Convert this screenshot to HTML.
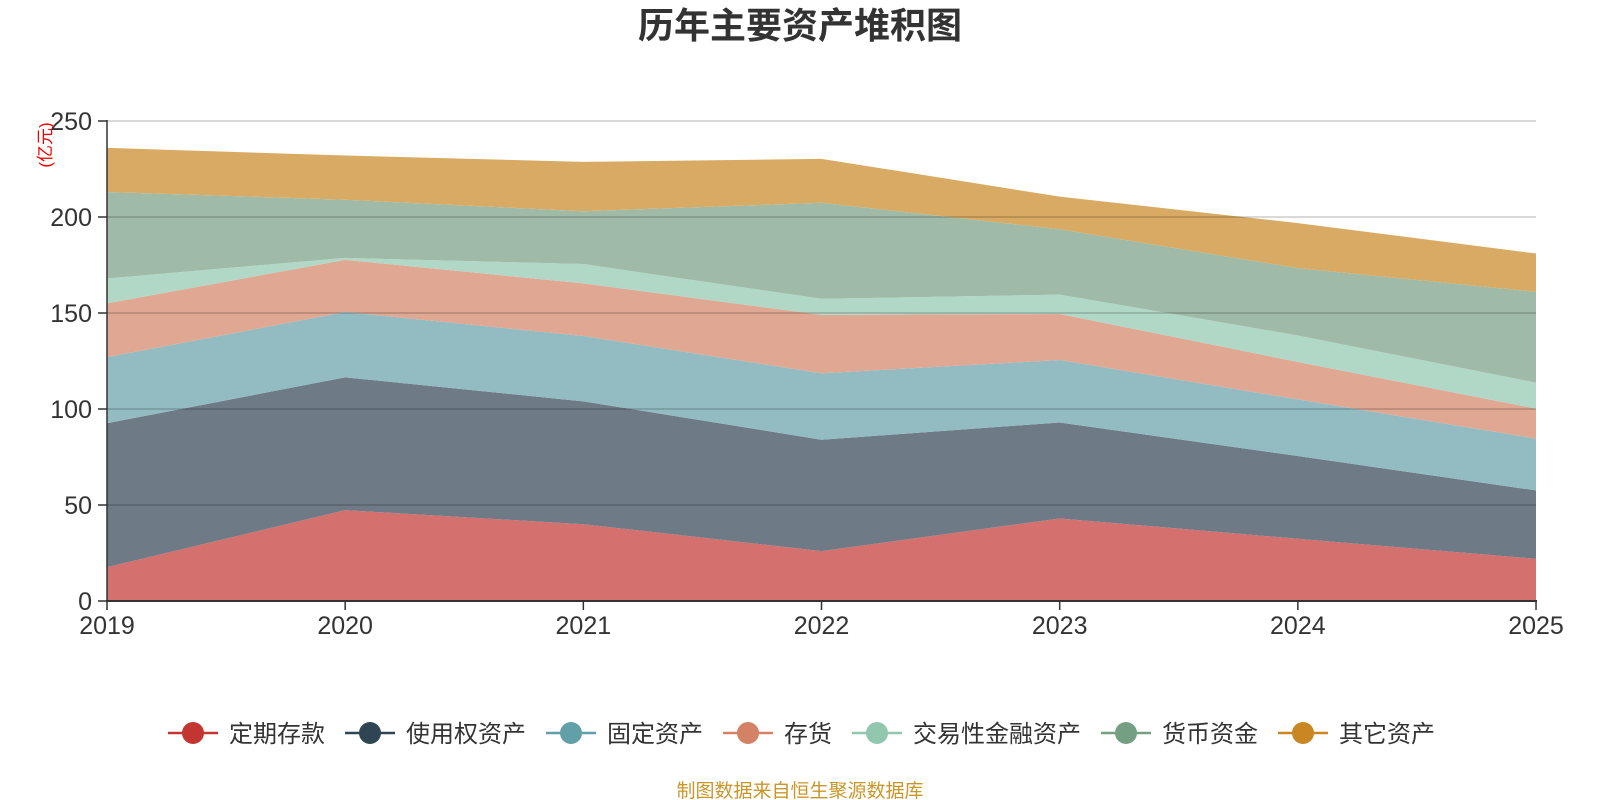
<!DOCTYPE html>
<html><head><meta charset="utf-8"><style>
body{margin:0;background:#fff;}
svg{display:block;font-family:"Liberation Sans","Noto Sans CJK SC",sans-serif;}
</style></head><body>
<svg id="s" width="1600" height="800" viewBox="0 0 1600 800" xmlns="http://www.w3.org/2000/svg">
<text x="800" y="38" text-anchor="middle" font-size="36" font-weight="bold" fill="#333">历年主要资产堆积图</text>
<g id="areas"></g>
<g id="grid"></g>
<text transform="translate(51,145) rotate(-90)" text-anchor="middle" font-size="17" fill="#e00">(亿元)</text>
<g id="legend" font-size="24" fill="#333"></g>
<text x="800" y="797" text-anchor="middle" font-size="19" fill="#c9962a">制图数据来自恒生聚源数据库</text>
</svg>
<script>
var ns="http://www.w3.org/2000/svg";
function X(i){return 107+i*238.17;}function Y(v){return 601-v*1.92;}
var tops=[[17.6,47.3,40,26,43,32.4,22],[92.6,116.5,104,84,93,75.5,57.6],[127,150.5,138,118.6,125.5,105,84.6],[155,177.7,165.4,149,149.5,124.5,100.2],[168,178.7,175.5,157.4,159.6,138.3,113.7],[213,209,203,207.4,193.6,173.4,161],[236,232,228.7,230.3,210.6,196.8,181]];
var fills=["#d4706d","#6e7b86","#92bcc2","#e0a793","#b1d8c7","#9fbba8","#d9aa63"];
var A=document.getElementById('areas');
for(var k=0;k<7;k++){var p=[];for(var i=0;i<7;i++)p.push(X(i)+","+Y(tops[k][i]));
for(var i=6;i>=0;i--)p.push(X(i)+","+Y(k?tops[k-1][i]:0));
var e=document.createElementNS(ns,'polygon');e.setAttribute('points',p.join(' '));e.setAttribute('fill',fills[k]);A.appendChild(e);}
var G=document.getElementById('grid'),h='';
for(var v=50;v<=250;v+=50)h+='<line x1="107" x2="1536" y1="'+Y(v)+'" y2="'+Y(v)+'" stroke="rgba(0,0,0,0.2)" stroke-width="1.5"/>';
for(var v=0;v<=250;v+=50)h+='<line x1="98" x2="107" y1="'+Y(v)+'" y2="'+Y(v)+'" stroke="#333" stroke-width="1.5"/><text x="92" y="'+(Y(v)+9)+'" text-anchor="end" font-size="25" fill="#333">'+v+'</text>';
h+='<line x1="107" x2="107" y1="120" y2="602" stroke="#333" stroke-width="1.5"/><line x1="106" x2="1537" y1="601" y2="601" stroke="#333" stroke-width="2"/>';
for(var i=0;i<7;i++)h+='<line x1="'+X(i)+'" x2="'+X(i)+'" y1="601" y2="610" stroke="#333" stroke-width="1.5"/><text x="'+X(i)+'" y="634" text-anchor="middle" font-size="25" fill="#333">'+(2019+i)+'</text>';
G.innerHTML=h;
var names=["定期存款","使用权资产","固定资产","存货","交易性金融资产","货币资金","其它资产"],lc=["#c23531","#2f4554","#61a0a8","#d48265","#91c7ae","#749f83","#ca8622"];
var L='',x=168;
for(var k=0;k<7;k++){L+='<line x1="'+x+'" x2="'+(x+50)+'" y1="733" y2="733" stroke="'+lc[k]+'" stroke-width="2.5"/><circle cx="'+(x+25)+'" cy="733" r="11" fill="'+lc[k]+'"/><text x="'+(x+61)+'" y="742">'+names[k]+'</text>';
x+=61+names[k].length*24+20;}
document.getElementById('legend').innerHTML=L;
</script>
</body></html>
